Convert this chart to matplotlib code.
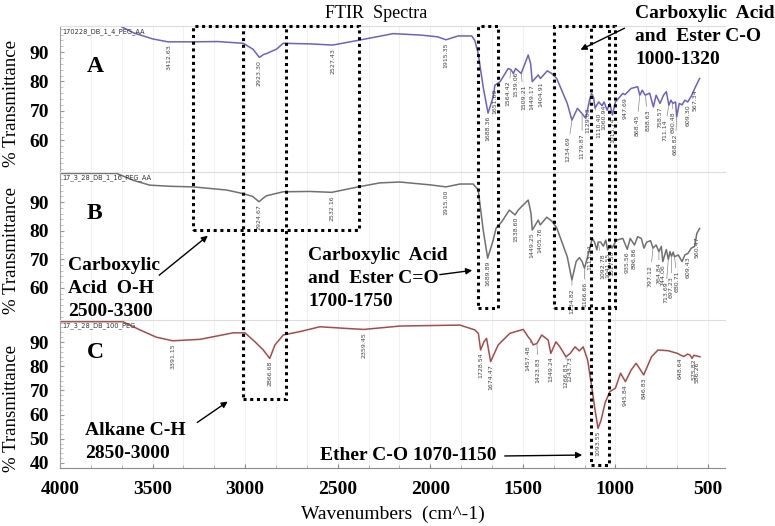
import numpy as np
import matplotlib
matplotlib.use("Agg")
import matplotlib.pyplot as plt
from matplotlib.patches import Rectangle, FancyArrowPatch
from matplotlib.transforms import blended_transform_factory
from matplotlib.ticker import MultipleLocator

# ---- spectrum A (170228_DB_1_4_PEG_AA)
A_wn = [4000, 3700, 3676, 3600, 3500, 3417, 3280, 3150, 3010, 2958, 2923, 2900, 2884, 2860, 2830,
        2795, 2650, 2527, 2390, 2200, 2050, 1960, 1915, 1850, 1776, 1759, 1741, 1714, 1688, 1660,
        1651, 1623, 1579, 1564, 1551, 1539, 1509, 1471, 1458, 1449, 1417, 1405, 1368, 1344, 1317,
        1260, 1235, 1205, 1180, 1160, 1140, 1129, 1118, 1110, 1090, 1072, 1061, 1045, 1030, 1016,
        1000, 960, 948, 915, 880, 868, 855, 839, 815, 795, 780, 759, 740, 725, 711, 700, 690, 675,
        669, 655, 640, 625, 609, 590, 567, 545]
A_t = [100.5, 100.2, 98.9, 96.5, 94.5, 93.5, 93.5, 93.6, 93.0, 91.0, 88.2, 89.2, 89.5, 90.2, 91.0,
       93.0, 92.8, 92.4, 94.0, 96.3, 95.8, 95.2, 94.2, 95.5, 95.5, 93.9, 89.5, 78.0, 69.2, 74.7,
       78.7, 79.9, 84.4, 84.0, 82.7, 84.4, 82.7, 89.0, 86.1, 79.9, 82.2, 81.0, 83.6, 82.7, 81.0,
       72.5, 66.8, 70.8, 69.0, 67.4, 73.6, 75.9, 74.5, 70.9, 73.0, 71.7, 73.0, 70.2, 72.5, 68.5,
       73.0, 75.9, 75.5, 77.6, 78.2, 75.3, 77.0, 75.3, 76.0, 71.3, 75.3, 72.5, 75.3, 76.5, 71.9,
       73.6, 72.5, 73.0, 67.9, 72.5, 72.0, 73.6, 73.0, 75.0, 78.2, 81.0]
A_peaks = ["3412.63", "2923.30", "2527.43", "1915.35", "1688.36", "1651.69", "1564.42", "1539.06",
           "1509.21", "1449.17", "1404.91", "1234.69", "1179.87", "1129.03", "1110.40", "1060.94",
           "1015.74", "947.69", "868.45", "838.63", "758.57", "711.14", "690.48", "668.82",
           "609.30", "567.34"]

# ---- spectrum B (17_3_28_DB_1_16_PEG_AA)
B_wn = [4000, 3694, 3600, 3514, 3400, 3280, 3100, 3015, 2960, 2925, 2900, 2884, 2794, 2650, 2532,
        2389, 2272, 2164, 2000, 1915, 1840, 1768, 1759, 1741, 1714, 1690, 1660, 1645, 1614, 1573,
        1542, 1525, 1498, 1471, 1456, 1449, 1417, 1406, 1371, 1344, 1317, 1260, 1235, 1212, 1195,
        1180, 1167, 1140, 1125, 1113, 1100, 1093, 1080, 1065, 1052, 1042, 1025, 1018, 995, 960,
        936, 920, 897, 880, 860, 846, 831, 810, 797, 780, 765, 752, 744, 725, 714, 705, 697, 688,
        681, 660, 640, 624, 609, 590, 572, 560, 545]
B_t = [100.0, 100.0, 97.5, 95.9, 95.5, 95.3, 94.2, 93.0, 92.0, 90.1, 91.5, 92.2, 93.6, 93.7, 93.4,
       95.3, 96.7, 97.0, 96.0, 95.3, 96.3, 96.3, 95.6, 94.2, 80.2, 70.4, 76.7, 80.8, 83.1, 87.2,
       85.5, 87.2, 89.0, 90.7, 86.1, 80.2, 83.7, 82.0, 84.7, 83.4, 81.0, 70.9, 62.8, 69.2, 70.6,
       69.2, 66.9, 73.3, 77.3, 76.0, 73.3, 76.0, 76.0, 74.6, 76.7, 73.3, 74.9, 73.9, 76.7, 77.3,
       73.5, 77.3, 75.0, 77.9, 77.3, 73.9, 76.0, 76.5, 73.9, 75.0, 72.7, 74.5, 69.2, 73.4, 70.0,
       72.7, 71.0, 72.5, 70.9, 71.5, 69.2, 71.6, 72.0, 73.9, 74.5, 79.1, 80.8]
B_peaks = ["2924.67", "2532.16", "1915.00", "1689.89", "1538.60", "1449.25", "1405.76", "1234.82",
           "1166.66", "1113.34", "1092.78", "1041.55", "1017.50", "935.56", "896.86", "797.12",
           "764.84", "744.06", "713.69", "697.23", "680.71", "609.43", "560.47"]

# ---- spectrum C (17_3_28_DB_100_PEG)
C_wn = [4000, 3660, 3568, 3480, 3391, 3244, 3064, 3001, 2947, 2902, 2867, 2839, 2794, 2704, 2596,
        2450, 2359, 2164, 1840, 1759, 1740, 1728, 1710, 1696, 1674, 1633, 1570, 1498, 1470, 1457,
        1444, 1424, 1398, 1363, 1349, 1321, 1300, 1267, 1244, 1218, 1195, 1174, 1150, 1128, 1110,
        1094, 1078, 1055, 1030, 1000, 972, 946, 915, 888, 847, 805, 770, 715, 665, 649, 630, 610,
        597, 586, 576, 560, 543]
C_t = [98.4, 98.4, 95.0, 92.0, 90.5, 91.1, 93.8, 93.8, 90.1, 86.7, 83.2, 88.8, 92.9, 94.3, 96.3,
       95.6, 95.2, 96.6, 97.0, 95.0, 93.5, 86.7, 90.1, 91.5, 81.9, 88.8, 93.6, 95.2, 92.0, 90.8,
       88.8, 89.4, 92.9, 90.8, 85.3, 90.1, 88.0, 83.9, 85.3, 88.0, 86.3, 88.0, 82.6, 71.5, 61.9,
       54.3, 57.5, 65.0, 69.5, 70.9, 77.1, 73.6, 78.4, 81.2, 76.4, 83.9, 86.7, 86.4, 85.3, 84.6,
       84.0, 85.0, 84.6, 83.2, 84.5, 84.2, 83.9]
C_peaks = ["3391.15", "2866.68", "2359.45", "1728.54", "1674.47", "1457.48", "1423.83", "1349.24",
           "1266.83", "1243.73", "1093.55", "945.84", "846.83", "648.64", "575.82", "586.26"]

# labels pushed away from crowded bands (dx, dy in points), drawn with a leader line
label_shift = {"1234.69": (-3, -12), "1179.87": (0, -14), "1129.03": (-3, -10),
               "1110.40": (3, -4), "1564.42": (-2, -8), "1509.21": (2, -8),
               "868.45": (-2, -14), "838.63": (2, -10), "711.14": (-3, -10),
               "690.48": (0, -6), "668.82": (-1, -12), "1234.82": (0, -6),
               "1166.66": (0, -10), "1113.34": (-3, -2), "1092.78": (3, -8),
               "797.12": (-2, -12), "764.84": (0, -8), "713.69": (-2, -16),
               "697.23": (0, -14), "680.71": (2, -10), "1457.48": (-2, -4),
               "1423.83": (1, -10), "1266.83": (0, -4), "586.26": (4, -2)}

names = ["170228_DB_1_4_PEG_AA", "17_3_28_DB_1_16_PEG_AA", "17_3_28_DB_100_PEG"]
letters = ["A", "B", "C"]
colors = ["#6a62c6", "#707070", "#a84a4a"]

W, H = 775, 526
SERIF = "Liberation Serif"


def px(x, y):
    # image pixel (top-left origin) -> figure pixels
    return (x, H - y)


fig = plt.figure(figsize=(W / 100, H / 100), dpi=100)

# axes boxes in image pixels: top, bottom, ylim, yticks
panels = [(26, 172, (49.1, 98.9), [60, 70, 80, 90]),
          (172, 320, (48.8, 100.5), [60, 70, 80, 90]),
          (320, 468, (37.9, 99.1), [40, 50, 60, 70, 80, 90])]
data = [(A_wn, A_t, A_peaks), (B_wn, B_t, B_peaks), (C_wn, C_t, C_peaks)]

axes = []
for i, ((top, bot, ylim, yt), (wn, t, peaks)) in enumerate(zip(panels, data)):
    ax = fig.add_axes([60 / W, 1 - bot / H, 665 / W, (bot - top) / H])
    ax.plot(wn, t, color=colors[i], lw=1.1)
    ax.set_xlim(4000, 408)
    ax.set_ylim(*ylim)
    ax.set_yticks(yt)
    ax.yaxis.set_minor_locator(MultipleLocator(2))
    ax.xaxis.set_major_locator(MultipleLocator(500))
    ax.xaxis.set_minor_locator(MultipleLocator(500 / 3))
    ax.grid(True, which="both", axis="x", color="#f1f1f1", lw=0.8)
    ax.set_axisbelow(True)
    for lab in ax.get_yticklabels():
        lab.set_fontfamily(SERIF)
        lab.set_fontweight("bold")
        lab.set_fontsize(14)
    ax.tick_params(axis="y", which="major", length=3, direction="in", color="#999999", pad=8)
    ax.tick_params(axis="y", which="minor", length=2, direction="in", color="#bbbbbb")
    ax.spines["right"].set_visible(False)
    ax.spines["top"].set_color("#dddddd")
    ax.spines["left"].set_color("#a0a0a0")
    ax.set_ylabel("% Transmittance", fontfamily=SERIF, fontsize=13.5)
    ax.yaxis.set_label_coords(-0.060, 0.47 if i < 2 else 0.4)
    if i < 2:
        ax.spines["bottom"].set_visible(False)
        ax.tick_params(axis="x", which="both", bottom=False, labelbottom=False)
    else:
        ax.spines["bottom"].set_color("#8a8a8a")
        ax.tick_params(axis="x", which="major", length=3, direction="in", color="#888888", pad=9)
        ax.tick_params(axis="x", which="minor", length=2, direction="in", color="#aaaaaa")
        for lab in ax.get_xticklabels():
            lab.set_fontfamily(SERIF)
            lab.set_fontweight("bold")
            lab.set_fontsize(14)
        ax.set_xlabel("Wavenumbers  (cm^-1)", fontfamily=SERIF, fontsize=14, labelpad=6)

    ax.text(0.004, 0.985, names[i], transform=ax.transAxes, fontsize=4.8,
            color="#333333", va="top", ha="left")
    ax.text(0.04, 0.72 if i < 2 else 0.78, letters[i], transform=ax.transAxes,
            fontfamily=SERIF, fontweight="bold", fontsize=17, va="center", ha="left")

    # peak labels under each band
    order = np.argsort(wn)
    xs = np.array(wn)[order]
    ys = np.array(t)[order]
    for p in peaks:
        w = float(p)
        y = np.interp(w, xs, ys)
        dx, dy = label_shift.get(p, (0, -2))
        props = None
        if dy < -3:
            props = dict(arrowstyle="-", color="#888888", lw=0.5, shrinkA=0, shrinkB=0)
        ax.annotate(p, (w, y), xytext=(dx, dy), textcoords="offset points",
                    rotation=90, fontsize=4.5, color="#444444",
                    ha="center", va="top", annotation_clip=False, arrowprops=props)
    axes.append(ax)

fig.text(376 / W, 1 - 13 / H, "FTIR  Spectra", fontfamily=SERIF, fontsize=13,
         ha="center", va="center")

# dotted boxes (x in wavenumbers, y in image pixels)
boxes = [(3280, 2386, 26, 230), (3009, 2781, 26, 399), (1741, 1633, 26, 308),
         (1329, 1004, 26, 308), (1134, 1032, 26, 465)]
trans = blended_transform_factory(axes[2].transData, fig.transFigure)
for w1, w2, y1, y2 in boxes:
    r = Rectangle((w1, 1 - y2 / H), w2 - w1, (y2 - y1) / H, transform=trans,
                  fill=False, ls=(0, (1, 1.2)), lw=2.2, ec="black", clip_on=False)
    fig.add_artist(r)

# annotation texts
ann = dict(fontfamily=SERIF, fontweight="bold", fontsize=14, linespacing=1.45,
           ha="left", va="top")
fig.text(635 / W, 1 - 5 / H, "Carboxylic  Acid\nand  Ester C-O\n1000-1320", **ann)
fig.text(68 / W, 1 - 257 / H, "Carboxylic\nAcid  O-H\n2500-3300", **ann)
fig.text(308 / W, 1 - 247 / H, "Carboxylic  Acid\nand  Ester C=O\n1700-1750", **ann)
fig.text(85 / W, 1 - 422 / H, "Alkane C-H\n2850-3000", **ann)
fig.text(320 / W, 1 - 447 / H, "Ether C-O 1070-1150", **ann)

arrows = [((627, 27), (578, 51)), ((157, 277), (210, 234)), ((437, 275), (475, 270)),
          ((195, 424), (230, 400)), ((502, 456), (585, 455))]
for (x0, y0), (x1, y1) in arrows:
    fig.add_artist(FancyArrowPatch(posA=px(x0, y0), posB=px(x1, y1), transform=None,
                                   arrowstyle="-|>", mutation_scale=9, lw=1.0, color="black"))

fig.savefig("out.png", dpi=100)
